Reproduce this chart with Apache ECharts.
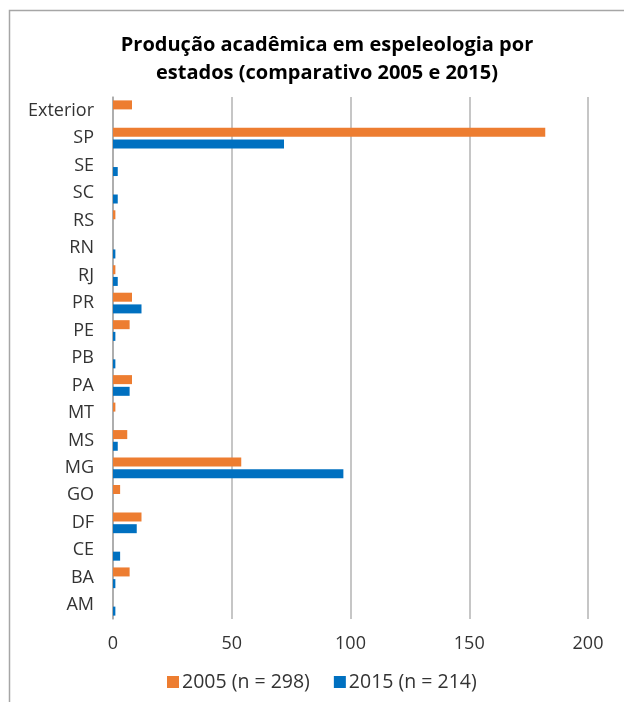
<!DOCTYPE html>
<html>
<head>
<meta charset="utf-8">
<script src="https://cdn.jsdelivr.net/npm/echarts@6/dist/echarts.min.js"></script>
<style>html,body{margin:0;padding:0;background:#fff}#c{width:624px;height:702px}</style>
</head>
<body>
<div id="c"></div>
<script>
const categories = ['Exterior','SP','SE','SC','RS','RN','RJ','PR','PE','PB','PA','MT','MS','MG','GO','DF','CE','BA','AM'];
const values2005 = [8,182,0,0,1,0,1,8,7,0,8,1,6,54,3,12,0,7,0];
const values2015 = [0,72,2,2,0,1,2,12,1,1,7,0,2,97,0,10,3,1,1];
const seriesNames = ['2005 (n = 298)','2015 (n = 214)'];
const xTicks = [0,50,100,150,200];

const chart = echarts.init(document.getElementById('c'));
const font = '"Open Sans", sans-serif';
chart.setOption({
  animation: false,
  title: {
    text: 'Produção acadêmica em espeleologia por\nestados (comparativo 2005 e 2015)',
    left: 322, top: 26, textAlign: 'center',
    textStyle: {fontFamily: font, fontSize: 20, fontWeight: 'bold', color: '#000', lineHeight: 28}
  },
  graphic: [{type:'rect', shape:{x:9.5,y:10.5,width:800,height:800}, style:{fill:'none', stroke:'#a6a6a6', lineWidth:1.5}, silent:true}],
  legend: {
    data: seriesNames, bottom: 5, left: 162, itemWidth: 12, itemHeight: 12, itemGap: 24,
    icon: 'rect',
    textStyle: {fontFamily: font, fontSize: 19.5, color: '#333', padding: [0,0,0,-2]}
  },
  grid: {left: 113, right: 36, top: 97, bottom: 83, containLabel: false},
  xAxis: {
    type: 'value', min: xTicks[0], max: xTicks[xTicks.length-1], interval: 50,
    axisLine: {show: false}, axisTick: {show: false},
    axisLabel: {fontFamily: font, fontSize: 18, color: '#333', margin: 16},
    splitLine: {lineStyle: {color: '#b3b3b3', width: 1.5}}
  },
  yAxis: {
    type: 'category', data: categories, inverse: true,
    axisLine: {show: true, lineStyle: {color: '#a6a6a6', width: 1.5}},
    axisTick: {show: false},
    axisLabel: {fontFamily: font, fontSize: 18, color: '#333', margin: 19, padding: [0,0,5,0]}
  },
  series: [
    {name: seriesNames[0], type: 'bar', data: values2005, barWidth: 9, barGap: '30%', itemStyle: {color: '#ED7D31'}},
    {name: seriesNames[1], type: 'bar', data: values2015, barWidth: 9, barGap: '30%', itemStyle: {color: '#0070C0'}}
  ]
});
</script>
</body>
</html>
